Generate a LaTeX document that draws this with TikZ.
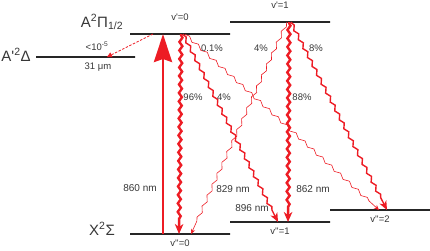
\documentclass[tikz,border=0pt]{standalone}
\usepackage{fontspec}
\newfontfamily\lblfont{Liberation Sans}
\usepackage{xcolor}
\usetikzlibrary{arrows.meta, positioning, decorations.pathmorphing}
\definecolor{laser}{RGB}{237,28,36}
\definecolor{ink}{RGB}{55,55,55}

\begin{document}
\begin{tikzpicture}[
			x=1pt, y=-1pt,
			every node/.style={font=\lblfont\fontsize{9.5}{11}\selectfont, text=ink, inner sep=0pt},
			level/.style={
				rectangle, draw=black!85, line width=1.3pt,
				minimum width=#1, minimum height=0pt, inner sep=0pt
			},
			state/.style={font=\lblfont\fontsize{15}{18}\selectfont, anchor=base},
			nm/.style={font=\lblfont\fontsize{10}{12}\selectfont},
			decay/.style={
				draw=laser, decorate,
				decoration={snake, amplitude=1.5pt, segment length=#1, pre length=1pt, post length=12pt}
			},
			strong/.style={decay=8.5pt, line width=2.4pt,
				-{Stealth[length=10pt,width=8.5pt,inset=3pt]}},
			medium/.style={decay=10pt, line width=1.4pt,
				-{Stealth[length=9pt,width=7.5pt,inset=2.5pt]}},
			weak/.style={decay=12pt, line width=0.6pt,
				-{Stealth[length=5pt,width=4.5pt,inset=1.5pt]}},
			pump/.style={draw=laser, line width=2.8pt,
				-{Stealth[length=28pt,width=18pt,inset=3pt]}}
			]
			\useasboundingbox (0,0) rectangle (430,250);
			
			% Levels
			\node[level=100pt] (vp0)  at (180,34)  {};
			\node[level=100pt] (vp1)  at (280,22)  {};
			\node[level=99pt]  (ad)   at (85.5,57) {};
			\node[level=100pt] (vpp0) at (180,234) {};
			\node[level=100pt] (vpp1) at (280,222) {};
			\node[level=100pt] (vpp2) at (380,210) {};
			
			% Level labels
			\node[above=12.5pt of vp0]  (lvp0)  {v'=0};
			\node[above=13pt of vp1]    (lvp1)  {v'=1};
			\node[below=5.5pt of vpp0]  (lvpp0) {v''=0};
			\node[below=5.5pt of vpp1]  (lvpp1) {v''=1};
			\node[below=5pt of vpp2]    (lvpp2) {v''=2};
			\node[above=6pt of ad, xshift=11.5pt] (lbr) {<10\textsuperscript{-5}};
			\node[below=5pt of ad, xshift=12.5pt] (lwl) {31 μm};
			
			% States
			\node[state] (sA)  at (102,27)  {A\textsuperscript{2}Π\textsubscript{1/2}};
			\node[state] (sAp) at (16,61)   {A'\textsuperscript{2}Δ};
			\node[state] (sX)  at (102,235) {X\textsuperscript{2}Σ};
			
			% Pump and decays
			\draw[pump]   ([xshift=-17pt]vpp0.center) -- ([xshift=-17pt]vp0.center);
			\draw[strong] ([xshift=1pt]vp0.center)  -- ([xshift=-1pt]vpp0.center);
			\draw[medium] ([xshift=3pt]vp0.center)  -- ([xshift=-2pt]vpp1.center);
			\draw[weak]   ([xshift=5pt]vp0.center)  -- ([xshift=-1pt]vpp2.center);
			\draw[draw=laser, line width=0.7pt, dash pattern=on 2.5pt off 1.5pt,
				-{Triangle[length=5pt,width=5pt]}]
				([xshift=-27pt]vp0.center) -- ([xshift=21.5pt]ad.center);
			\draw[strong] ([xshift=9pt]vp1.center)  -- ([xshift=8pt]vpp1.center);
			\draw[medium] ([xshift=11pt]vp1.center) -- ([xshift=7pt]vpp2.center);
			\draw[weak]   ([xshift=7pt]vp1.center)  -- ([xshift=11pt]vpp0.center);
			
			% Branching ratios
			\node (r01) at (212,48) {0.1\%};
			\node (r00) at (193,97) {96\%};
			\node (r10) at (224,97) {4\%};
			\node (r14) at (261,48) {4\%};
			\node (r12) at (316,48) {8\%};
			\node (r11) at (302,97) {88\%};
			
			% Wavelengths
			\node[nm] (w860) at (140,188) {860 nm};
			\node[nm] (w829) at (233,189) {829 nm};
			\node[nm] (w896) at (252,208) {896 nm};
			\node[nm] (w862) at (313,189) {862 nm};
			
		\end{tikzpicture}
\end{document}
